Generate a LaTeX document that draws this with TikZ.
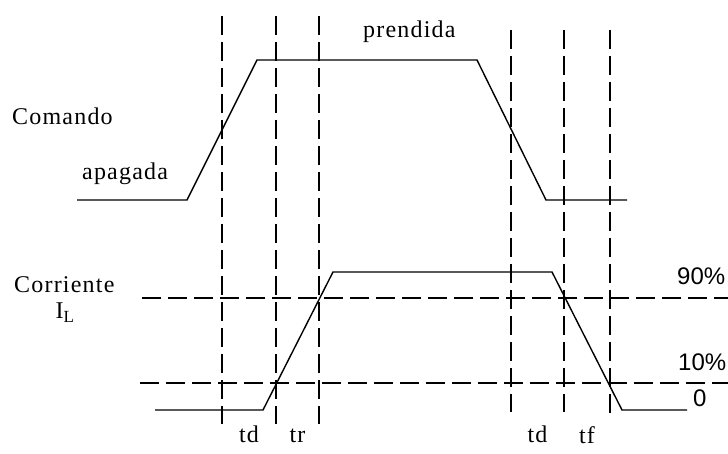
\documentclass[tikz,border=0pt]{standalone}
\usepackage{fontspec}
\setmainfont{Liberation Serif}
\newfontfamily\lblfont[LetterSpace=5]{Liberation Serif}
\newfontfamily\pctfont{Liberation Sans}
\usepackage{tikz}
\usetikzlibrary{calc,positioning}

\begin{document}
\begin{tikzpicture}[
    x=1pt, y=-1pt,
    signal/.style={line width=1.4pt, line join=miter},
    guide/.style={line width=1.6pt, dash pattern=on 19pt off 7pt},
    lbl/.style={inner sep=0pt, font=\lblfont\fontsize{24}{28}\selectfont},
    pct/.style={inner sep=0pt, anchor=base west, font=\pctfont\fontsize{24}{28}\selectfont}
]
\useasboundingbox (0,0) rectangle (728,454);

% ================= COORDINATES =================
% Comando
\coordinate (C0) at (77,200);
\coordinate (C1) at (187,200);
\coordinate (C2) at (257,60);
\coordinate (C3) at (477,60);
\coordinate (C4) at (546,200);
\coordinate (C5) at (627,200);

% Corriente
\coordinate (I0) at (155,410);
\coordinate (I1) at (263,410);
\coordinate (I2) at (333,272);
\coordinate (I3) at (552,272);
\coordinate (I4) at (622,410);
\coordinate (I5) at (687,410);

% Vertical guides
\coordinate (V1t) at (222,16);  \coordinate (V1b) at (222,424);
\coordinate (V2t) at (276,16);  \coordinate (V2b) at (276,424);
\coordinate (V3t) at (319,16);  \coordinate (V3b) at (319,424);
\coordinate (V4t) at (511,30);  \coordinate (V4b) at (511,412);
\coordinate (V5t) at (564,30);  \coordinate (V5b) at (564,412);
\coordinate (V6t) at (610,30);  \coordinate (V6b) at (610,414);

% Horizontal guides
\coordinate (H90l) at (142,298); \coordinate (H90r) at (728,298);
\coordinate (H10l) at (140,383); \coordinate (H10r) at (728,383);

% ================= DRAWING =================
% Guides
\draw[guide] (V1t) -- (V1b);
\draw[guide] (V2t) -- (V2b);
\draw[guide] (V3t) -- (V3b);
\draw[guide] (V4t) -- (V4b);
\draw[guide] (V5t) -- (V5b);
\draw[guide] (V6t) -- (V6b);
\draw[guide] (H90l) -- (H90r);
\draw[guide] (H10l) -- (H10r);

% Waveforms
\draw[signal] (C0) -- (C1) -- (C2) -- (C3) -- (C4) -- (C5);
\draw[signal] (I0) -- (I1) -- (I2) -- (I3) -- (I4) -- (I5);

% ================= LABELS =================
\node[lbl, anchor=base west] (Cmd) at (12,125) {Comando};
\node[lbl, anchor=base west] (Off) at (82,180) {apagada};
\node[lbl, anchor=base west] (On) at (363,38) {prendida};
\node[lbl, anchor=base west] (Cur) at (14,293) {Corriente};
\node[lbl, anchor=base] (IL) at (65,319) {I\textsubscript{\fontsize{17}{19}\selectfont L}};

\node[lbl, anchor=base] (Td1) at ($(V1b)!0.5!(V2b) + (0,18)$) {td};
\node[lbl, anchor=base] (Tr) at ($(V2b)!0.5!(V3b) + (0,18)$) {tr};
\node[lbl, anchor=base] (Td2) at ($(V4b)!0.5!(V5b) + (0,30)$) {td};
\node[lbl, anchor=base] (Tf) at ($(V5b)!0.5!(V6b) + (0,30)$) {tf};

\node[pct] (P90) at (677,285) {90\%};
\node[pct] (P10) at (678,370) {10\%};
\node[pct] (P0) at (693,406) {0};

\end{tikzpicture}
\end{document}
